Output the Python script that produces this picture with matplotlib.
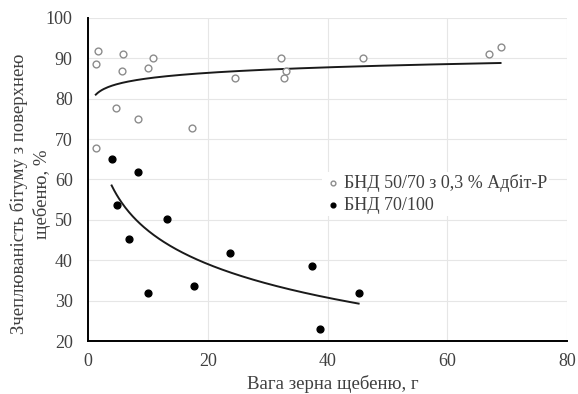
import numpy as np
import matplotlib
matplotlib.use("Agg")
import matplotlib.pyplot as plt

plt.rcParams['font.family'] = ['Liberation Serif', 'DejaVu Serif']

# Series 1: БНД 50/70 з 0,3 % Адбіт-Р (open circles)
x_adbit = [1.3, 1.7, 5.8, 5.7, 10.05, 10.8, 4.6, 8.3, 17.4, 1.4, 24.5, 32.3, 33.0, 32.8, 46.0, 66.9, 68.9]
y_adbit = [88.6, 91.9, 91.2, 86.8, 87.6, 90.2, 77.7, 75.1, 72.7, 67.7, 85.2, 90.2, 86.8, 85.2, 90.2, 91.1, 92.7]

# Series 2: БНД 70/100 (filled circles)
x_bnd = [3.95, 8.4, 4.9, 6.8, 10.05, 13.2, 17.7, 23.7, 37.4, 45.2, 38.8]
y_bnd = [65.1, 61.8, 53.6, 45.2, 31.9, 50.3, 33.6, 41.9, 38.5, 31.9, 22.9]

labels = ['БНД 50/70 з 0,3 % Адбіт-Р', 'БНД 70/100']
x_ticks = [0, 20, 40, 60, 80]
y_ticks = [20, 30, 40, 50, 60, 70, 80, 90, 100]

fig = plt.figure(figsize=(5.78, 3.94), dpi=100)
ax = fig.add_axes([88/578, 1 - 341/394, (567-88)/578, (341-18)/394])

ax.scatter(x_adbit, y_adbit, s=24, facecolors='white', edgecolors='#8c8c8c',
           linewidths=1.0, label=labels[0], zorder=3)
ax.scatter(x_bnd, y_bnd, s=24, color='black', label=labels[1], zorder=3)

# Logarithmic trendlines (fit from data)
for xs, ys in [(x_adbit, y_adbit), (x_bnd, y_bnd)]:
    xs = np.array(xs); ys = np.array(ys)
    a, b = np.polyfit(np.log(xs), ys, 1)
    xx = np.linspace(xs.min(), xs.max(), 200)
    ax.plot(xx, a * np.log(xx) + b, color='#1a1a1a', lw=1.4, zorder=2)

ax.set_xlim(0, 80)
ax.set_ylim(20, 100)
ax.set_xticks(x_ticks)
ax.set_yticks(y_ticks)
ax.tick_params(axis='y', length=0, labelsize=13, colors='#404040', pad=11)
ax.tick_params(axis='x', length=0, labelsize=13, colors='#404040', pad=9)
ax.grid(True, color='#e6e6e6', lw=0.8)
ax.set_axisbelow(True)
for s in ['top', 'right']:
    ax.spines[s].set_visible(False)
for s in ['left', 'bottom']:
    ax.spines[s].set_color('black')
    ax.spines[s].set_linewidth(1.4)

ax.set_xlabel('Вага зерна щебеню, г', fontsize=13.5, color='#404040')
ax.set_ylabel('Зчеплюваність бітуму з поверхнею\nщебеню, %', fontsize=13.5,
              color='#404040', linespacing=1.35, va='center')
ax.yaxis.set_label_coords(-0.12, 0.455)
ax.xaxis.set_label_coords(0.511, -0.105)

leg = ax.legend(loc='upper left', bbox_to_anchor=(0.47, 0.55), frameon=True,
                fontsize=13, handletextpad=0.1, borderpad=0.1,
                labelspacing=0.25, handlelength=1.0, markerscale=0.7)
leg.get_frame().set_facecolor('white')
leg.get_frame().set_edgecolor('none')
leg.get_frame().set_alpha(1)
for t in leg.get_texts():
    t.set_color('#404040')

fig.savefig('out.png', dpi=100)
